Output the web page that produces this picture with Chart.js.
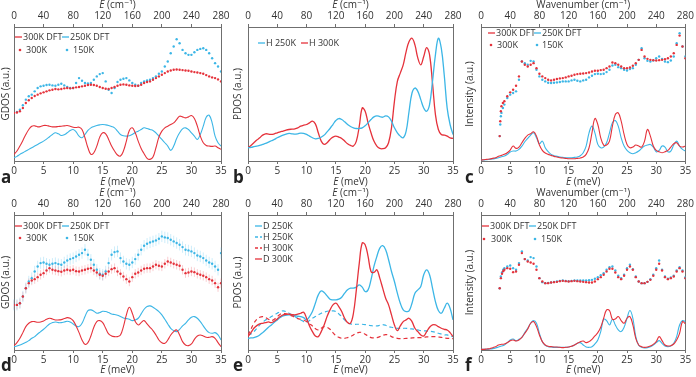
<!DOCTYPE html>
<html>
<head>
<meta charset="utf-8">
<script src="https://cdn.jsdelivr.net/npm/chart.js"></script>
<style>
  body { margin: 0; background: #fff; width: 696px; height: 377px; overflow: hidden; position: relative; }
  canvas { position: absolute; }
</style>
</head>
<body>
<canvas id="pa" width="232" height="188" style="left:0;top:0"></canvas>
<canvas id="pb" width="232" height="188" style="left:232px;top:0"></canvas>
<canvas id="pc" width="232" height="188" style="left:464px;top:0"></canvas>
<canvas id="pd" width="232" height="189" style="left:0;top:188px"></canvas>
<canvas id="pe" width="232" height="189" style="left:232px;top:188px"></canvas>
<canvas id="pf" width="232" height="189" style="left:464px;top:188px"></canvas>
<script>
// energy grid (meV) shared by most series
const E = [0,0.5,1,1.5,2,2.5,3,3.5,4,4.5,
  5,5.5,6,6.5,7,7.5,8,8.5,9,9.5,
  10,10.5,11,11.5,12,12.5,13,13.5,14,14.5,
  15,15.5,16,16.5,17,17.5,18,18.5,19,19.5,
  20,20.5,21,21.5,22,22.5,23,23.5,24,24.5,
  25,25.5,26,26.5,27,27.5,28,28.5,29,29.5,
  30,30.5,31,31.5,32,32.5,33,33.5,34,34.5,
  35];

// panel a
const aDft300 = [20,30,45,62,80,95,105,106,103,104,
  107,107,105,103,103,104,105,106,107,105,
  102,101,102,95,70,40,20,25,45,72,
  85,82,65,45,30,18,15,30,60,92,
  100,85,60,38,22,8,5,12,40,72,
  90,100,105,110,115,125,135,133,130,133,
  137,128,105,75,55,47,45,44,45,40,
  35];
const aDft250 = [10,14,20,25,30,35,40,45,50,55,
  60,66,73,80,85,82,77,79,85,92,
  95,88,75,70,80,92,100,104,107,109,
  110,109,107,104,100,90,80,76,75,76,
  80,86,90,95,100,98,95,92,85,75,
  65,55,45,32,45,68,85,97,100,95,
  85,75,65,80,105,132,138,115,75,55,
  45];
const aExp300 = [145,146,150,160,175,183,190,196,200,204,
  207,210,213,215,217,216,217,219,220,219,
  220,222,223,225,227,229,230,229,227,223,
  220,218,217,220,223,227,230,231,230,228,
  227,226,227,230,235,238,240,245,250,255,
  260,265,270,273,275,276,275,274,273,272,
  270,268,267,265,263,259,255,252,250,246,
  240];
const aExp150 = [145,148,155,168,185,195,200,210,220,225,
  227,229,230,228,227,230,233,228,223,220,
  220,235,250,242,235,234,235,245,255,262,
  265,240,215,205,220,238,245,248,250,243,
  235,230,227,235,240,243,245,250,255,263,
  270,285,300,325,345,367,355,335,325,320,
  320,328,335,338,340,335,325,310,295,285,
  270];

// panel b
const bH300 = [40,47,55,63,70,78,82,81,80,82,
  85,88,90,93,95,96,97,100,105,108,
  110,115,120,112,85,60,50,55,65,72,
  75,72,68,60,52,47,45,60,105,160,
  150,115,85,60,45,38,37,40,55,100,
  180,240,265,290,330,360,370,350,310,290,
  315,342,320,235,140,95,80,78,75,70,
  68];
const bH250 = [40,41,43,45,47,50,53,57,61,65,
  70,74,78,81,83,82,81,82,84,83,
  80,75,70,67,68,72,78,88,98,110,
  122,128,125,118,110,104,100,98,98,100,
  106,115,125,133,136,134,132,136,133,120,
  100,85,75,70,90,150,205,220,210,185,
  160,150,170,240,320,370,340,260,160,110,
  80];

// panel c
const cDft300 = [3,4,5,6,8,10,14,17,20,25,
  33,45,38,42,55,68,78,82,88,75,
  48,32,24,20,17,14,12,10,9,8,
  7,7,7,8,9,12,20,40,85,128,
  110,70,48,48,60,105,140,145,120,80,
  50,40,42,48,45,42,60,95,75,45,
  32,28,25,28,32,42,52,55,45,42,
  45];
const cDft250 = [3,3,4,5,6,8,10,13,15,20,
  27,30,30,35,45,58,68,78,85,70,
  52,60,40,28,20,16,14,12,11,10,
  10,10,11,12,16,25,45,85,105,85,
  50,40,42,55,85,115,122,105,70,45,
  32,25,22,25,30,38,45,48,50,42,
  28,32,45,42,28,30,48,60,45,35,
  30];
const cExpE = [3.2,3.3,3.4,3.5,3.75,
  4,4.5,5,5.5,6,6.5,7,7.5,8,8.5,
  9,9.5,10,10.5,11,11.5,12,12.5,13,13.5,
  14,14.5,15,15.5,16,16.5,17,17.5,18,18.5,
  19,19.5,20,20.5,21,21.5,22,22.5,23,23.5,
  24,24.5,25,25.5,26,26.5,27,27.5,28,28.5,
  29,29.5,30,30.5,31,31.5,32,32.5,33,33.5,
  34,34.5,35];
const cExp300 = [75,120,150,165,175,
  180,195,207,215,227,255,300,290,285,290,
  295,280,263,255,250,245,243,245,247,249,
  250,252,255,257,260,262,263,264,265,267,
  270,272,272,274,275,280,285,297,295,290,
  285,280,280,282,287,295,305,335,315,308,
  305,304,303,304,305,307,310,315,325,350,
  378,345,310];
const cExp150 = [75,110,135,145,160,
  170,190,200,205,210,245,300,295,290,302,
  300,275,255,245,240,236,235,236,237,238,
  240,240,240,243,245,242,240,243,245,252,
  257,262,263,262,263,268,275,288,290,283,
  280,275,273,277,280,290,305,340,310,302,
  300,303,310,315,308,300,298,303,315,355,
  385,345,315];

// panel d
const dDft300 = [13,22,35,52,70,80,85,85,83,84,
  87,92,95,93,90,90,91,94,97,95,
  88,72,52,30,17,22,42,68,85,88,
  82,65,48,42,40,40,45,70,105,128,
  110,85,75,82,88,78,68,58,45,30,
  22,20,30,45,55,60,45,25,15,13,
  18,32,42,45,42,38,38,40,35,22,
  10];
const dDft250 = [10,12,15,19,23,28,35,40,48,55,
  62,70,78,82,84,82,82,84,86,84,
  78,72,70,80,100,118,120,116,110,112,
  116,115,112,108,106,104,100,96,94,92,
  88,90,95,108,122,130,132,128,122,115,
  105,92,78,65,58,55,62,72,80,90,
  98,100,95,85,72,60,52,50,52,45,
  30];
const dExp300 = [135,135,140,160,185,200,208,212,218,225,
  230,238,245,240,238,236,234,238,240,238,
  240,236,235,238,240,243,245,238,232,225,
  222,228,235,242,245,235,228,220,212,205,
  218,228,232,238,243,245,245,250,255,252,
  250,258,265,262,258,255,252,240,230,232,
  235,233,228,225,222,218,212,208,200,188,
  200];
const dExp150 = [135,135,140,160,185,205,215,235,250,260,
  262,258,255,258,260,257,255,262,268,272,
  275,280,285,290,300,285,270,255,240,228,
  225,235,260,285,293,295,275,265,258,255,
  262,272,285,300,312,318,322,325,328,333,
  340,337,335,330,325,320,315,308,300,298,
  295,290,283,280,275,268,262,258,250,240,
  290];
const dErr300 = 14;
const dErr150 = 17;

// panel e
const eD250 = [35,36,37,40,45,52,60,68,75,83,
  90,97,102,104,105,104,103,101,100,97,
  90,100,115,140,165,177,172,162,152,150,
  150,152,158,170,180,185,185,188,195,188,
  175,180,210,250,280,305,312,300,270,235,
  205,170,140,120,115,117,140,170,180,190,
  225,240,225,185,145,118,110,125,140,125,
  90];
const eH250 = [45,48,55,65,75,83,90,95,100,105,
  110,115,117,115,110,105,100,95,90,85,
  82,88,95,100,105,110,113,116,117,117,
  115,108,100,90,82,78,77,77,77,77,
  76,74,73,72,72,74,76,74,70,68,
  66,65,65,65,65,64,63,62,60,58,
  57,57,56,55,53,50,48,45,45,42,
  40];
const eH300 = [45,62,80,92,98,100,97,92,88,92,
  100,107,110,108,105,102,98,94,92,90,
  85,78,72,64,60,65,70,68,62,52,
  43,38,35,35,37,40,45,50,53,52,
  47,42,37,36,37,40,44,46,45,40,
  37,35,34,34,35,35,36,37,37,37,
  38,39,40,40,40,39,38,36,35,35,
  34];
const eD300 = [40,52,65,73,78,80,82,84,82,86,
  93,100,105,107,107,106,105,107,110,113,
  95,72,55,42,40,55,75,100,120,135,
  140,130,115,95,82,80,110,180,260,320,
  315,280,235,232,240,215,185,155,135,105,
  75,58,72,85,90,95,85,65,55,45,
  42,55,68,75,75,70,65,62,60,52,
  40];

// panel f
const fDft300 = [2,2,3,4,7,10,15,17,18,22,
  28,30,27,30,38,50,63,80,85,70,
  45,25,15,11,10,9,9,8,7,8,
  9,11,15,20,25,27,22,25,32,42,
  52,68,95,120,118,92,93,100,88,80,
  95,100,75,35,15,10,8,9,12,17,
  25,40,28,15,12,13,18,30,50,85,
  78];
const fDft250 = [2,2,2,3,4,6,9,12,15,22,
  30,33,28,32,38,52,65,80,88,80,
  50,25,14,10,9,8,8,8,8,8,
  9,11,15,20,22,15,9,8,10,18,
  30,55,92,88,75,92,75,60,55,68,
  95,118,95,40,14,8,6,7,10,15,
  22,28,20,12,10,12,20,40,75,88,
  85];
const fExpE = [3.2,3.4,3.6,3.8,
  4,4.5,5,5.5,6,6.5,7,7.5,8,8.5,
  9,9.5,10,10.5,11,11.5,12,12.5,13,13.5,
  14,14.5,15,15.5,16,16.5,17,17.5,18,18.5,
  19,19.5,20,20.5,21,21.5,22,22.5,23,23.5,
  24,24.5,25,25.5,26,26.5,27,27.5,28,28.5,
  29,29.5,30,30.5,31,31.5,32,32.5,33,33.5,
  34,34.5,35];
const fExp300 = [185,215,228,236,
  240,245,243,233,235,255,290,272,265,262,
  258,240,215,205,200,200,202,203,204,206,
  207,206,205,206,207,206,205,204,203,202,
  202,205,212,218,225,235,243,243,232,218,
  212,222,240,250,240,218,205,200,200,204,
  210,222,240,258,238,218,212,215,220,235,
  245,235,215];
const fExp150 = [185,220,232,240,
  245,250,253,245,240,260,295,272,268,278,
  275,250,215,203,200,201,202,204,205,207,
  208,207,206,207,208,208,208,208,208,209,
  210,213,218,224,230,240,248,250,238,222,
  215,225,245,255,242,220,205,200,200,204,
  212,225,245,268,240,220,213,217,222,238,
  248,238,218];

const RED = '#e5323b';
const BLUE = '#3cb6e6';
const TXT = '#333';
const AX = '#6f6f6f';
const FONT = '"Open Sans", "DejaVu Sans", sans-serif';

function pts(xs, ys) {
  return ys.map((y, i) => ({ x: xs[i], y: y }));
}

function line(ys, color, dash, width) {
  return { data: pts(E, ys), borderColor: color, borderWidth: width || 1.1, borderDash: dash || [],
           pointRadius: 0, fill: false, tension: 0.4 };
}

function dots(xs, ys, color, err, errColor) {
  return { data: pts(xs, ys), showLine: false, pointRadius: 1.2, pointBorderWidth: 0,
           pointBackgroundColor: color, borderColor: color, errBar: err, errColor: errColor };
}

function drawMixed(ctx, parts, cx, cy) {
  let w = 0;
  parts.forEach(p => { ctx.font = (p[1] ? 'italic ' : '') + '10px ' + FONT; w += ctx.measureText(p[0]).width; });
  let x = cx - w / 2;
  ctx.textAlign = 'left';
  parts.forEach(p => {
    ctx.font = (p[1] ? 'italic ' : '') + '10px ' + FONT;
    ctx.fillText(p[0], x, cy);
    x += ctx.measureText(p[0]).width;
  });
}

const deco = {
  id: 'deco',
  beforeDatasetsDraw(chart) {
    const ctx = chart.ctx, ys = chart.scales.y;
    chart.data.datasets.forEach((ds, i) => {
      if (!ds.errBar) return;
      const meta = chart.getDatasetMeta(i);
      ctx.save();
      ctx.strokeStyle = ds.errColor;
      ctx.lineWidth = 1;
      meta.data.forEach((p, j) => {
        const v = ds.data[j].y;
        ctx.beginPath();
        ctx.moveTo(p.x, ys.getPixelForValue(v - ds.errBar));
        ctx.lineTo(p.x, ys.getPixelForValue(v + ds.errBar));
        ctx.stroke();
      });
      ctx.restore();
    });
  },
  afterDraw(chart, args, o) {
    const ctx = chart.ctx, ca = chart.chartArea;
    const cx = (ca.left + ca.right) / 2;
    ctx.save();
    ctx.fillStyle = TXT;
    ctx.textBaseline = 'middle';
    drawMixed(ctx, o.top, cx, 5);
    drawMixed(ctx, [['E', true], [' (meV)', false]], cx, 182);
    // legend
    o.legend.forEach(it => {
      const [kind, color, x, y, text, tx, dash] = it;
      if (kind === 'line') {
        ctx.strokeStyle = color;
        ctx.lineWidth = 1.3;
        ctx.setLineDash(dash || []);
        ctx.beginPath();
        ctx.moveTo(x, y);
        ctx.lineTo(x + 7, y);
        ctx.stroke();
        ctx.setLineDash([]);
      } else {
        ctx.fillStyle = color;
        ctx.beginPath();
        ctx.arc(x, y, 1.3, 0, Math.PI * 2);
        ctx.fill();
      }
      ctx.fillStyle = TXT;
      ctx.font = '9px ' + FONT;
      ctx.textAlign = 'left';
      ctx.fillText(text, tx, y);
    });
    // panel letter
    ctx.fillStyle = '#222';
    ctx.font = 'bold 17px ' + FONT;
    ctx.textBaseline = 'alphabetic';
    ctx.fillText(o.letter, 1, 183);
    ctx.restore();
  }
};

function panel(id, p) {
  const tickFont = { family: FONT, size: 10 };
  new Chart(document.getElementById(id), {
    type: 'line',
    data: { datasets: p.sets },
    options: {
      responsive: false,
      animation: false,
      devicePixelRatio: 1,
      layout: { padding: { left: 0, right: p.right, top: 0, bottom: 0 } },
      plugins: {
        legend: { display: false },
        tooltip: { enabled: false },
        deco: { letter: p.letter, top: p.top, legend: p.legend }
      },
      scales: {
        x: {
          type: 'linear', position: 'bottom', min: 0, max: 35,
          ticks: { stepSize: 5, autoSkip: false, maxRotation: 0, padding: 1, color: TXT, font: tickFont },
          grid: { drawOnChartArea: false, tickLength: 3, color: AX },
          border: { color: AX },
          afterFit: s => { s.height = 27; }
        },
        x2: {
          type: 'linear', position: 'top', min: 0, max: 280,
          ticks: { stepSize: 40, autoSkip: false, maxRotation: 0, padding: 2, color: TXT, font: tickFont },
          grid: { drawOnChartArea: false, tickLength: 3, color: AX },
          border: { color: AX },
          afterFit: s => { s.height = 27; }
        },
        y: {
          min: 0, max: 404,
          ticks: { display: false },
          grid: { drawOnChartArea: false, drawTicks: false, color: AX },
          border: { color: AX },
          title: { display: true, text: p.ytitle, padding: 0, color: TXT, font: tickFont },
          afterFit: s => { s.width = p.left; }
        },
        y2: {
          position: 'right', min: 0, max: 404,
          ticks: { display: false },
          grid: { drawOnChartArea: false, drawTicks: false, color: AX },
          border: { color: AX },
          afterFit: s => { s.width = 0; }
        }
      }
    },
    plugins: [deco]
  });
}

const cmTitle = [['E', true], [' (cm\u207B\u00B9)', false]];
const wnTitle = [['Wavenumber (cm\u207B\u00B9)', false]];

panel('pa', {
  letter: 'a', left: 14, right: 11, top: cmTitle, ytitle: 'GDOS (a.u.)',
  sets: [dots(E, aExp300, RED), dots(E, aExp150, BLUE), line(aDft300, RED), line(aDft250, BLUE)],
  legend: [['line', RED, 15, 37, '300K DFT', 23], ['line', BLUE, 62, 37, '250K DFT', 70],
           ['dot', RED, 20, 50, '300K', 26], ['dot', BLUE, 67, 50, '150K', 73]]
});
panel('pb', {
  letter: 'b', left: 16, right: 11, top: cmTitle, ytitle: 'PDOS (a.u.)',
  sets: [line(bH250, BLUE, null, 1.3), line(bH300, RED, null, 1.3)],
  legend: [['line', BLUE, 26, 43, 'H 250K', 34], ['line', RED, 69, 43, 'H 300K', 77]]
});
panel('pc', {
  letter: 'c', left: 17, right: 9, top: wnTitle, ytitle: 'Intensity (a.u.)',
  sets: [dots(cExpE, cExp300, RED), dots(cExpE, cExp150, BLUE), line(cDft300, RED), line(cDft250, BLUE)],
  legend: [['line', RED, 24, 33, '300K DFT', 32], ['line', BLUE, 70, 33, '250K DFT', 78],
           ['dot', RED, 27, 45, '300K', 33], ['dot', BLUE, 73, 45, '150K', 78]]
});
panel('pd', {
  letter: 'd', left: 14, right: 11, top: cmTitle, ytitle: 'GDOS (a.u.)',
  sets: [dots(E, dExp300, RED, dErr300, 'rgba(235,90,100,0.30)'),
         dots(E, dExp150, BLUE, dErr150, 'rgba(90,195,240,0.30)'),
         line(dDft300, RED), line(dDft250, BLUE)],
  legend: [['line', RED, 15, 38, '300K DFT', 23], ['line', BLUE, 62, 38, '250K DFT', 70],
           ['dot', RED, 20, 50, '300K', 26], ['dot', BLUE, 67, 50, '150K', 73]]
});
panel('pe', {
  letter: 'e', left: 16, right: 11, top: cmTitle, ytitle: 'PDOS (a.u.)',
  sets: [line(eD300, RED, null, 1.3), line(eH300, RED, [4, 3], 1.2),
         line(eH250, BLUE, [4, 3], 1.2), line(eD250, BLUE, null, 1.3)],
  legend: [['line', BLUE, 23, 38, 'D 250K', 31], ['line', BLUE, 23, 49, 'H 250K', 31, [3, 2]],
           ['line', RED, 23, 60, 'H 300K', 31, [3, 2]], ['line', RED, 23, 71, 'D 300K', 31]]
});
panel('pf', {
  letter: 'f', left: 17, right: 9, top: wnTitle, ytitle: 'Intensity (a.u.)',
  sets: [dots(fExpE, fExp300, RED), dots(fExpE, fExp150, BLUE), line(fDft300, RED), line(fDft250, BLUE)],
  legend: [['line', RED, 18, 38, '300K DFT', 26], ['line', BLUE, 65, 38, '250K DFT', 73],
           ['dot', RED, 20, 51, '300K', 27], ['dot', BLUE, 71, 51, '150K', 77]]
});
</script>
</body>
</html>
